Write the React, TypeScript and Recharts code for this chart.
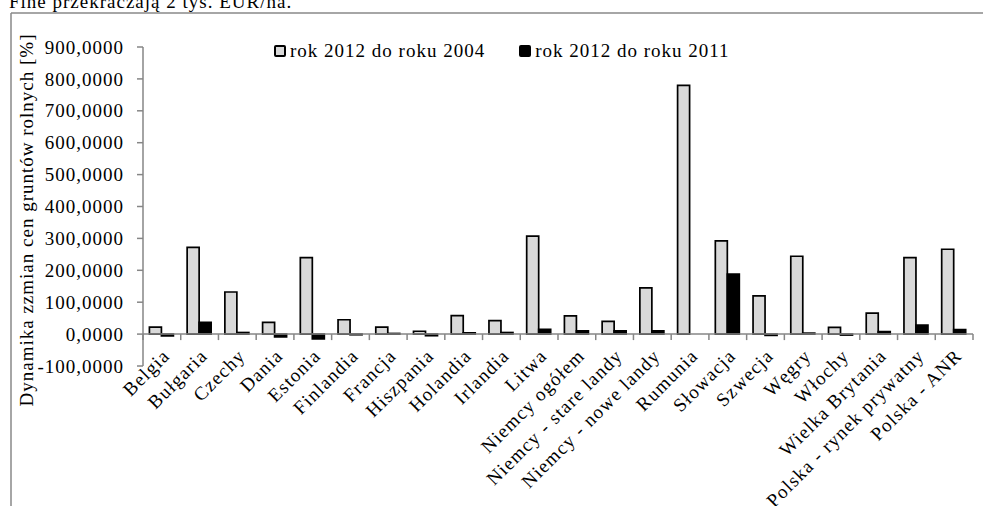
import { BarChart, Bar, XAxis, YAxis, ReferenceLine, Legend } from 'recharts'

const categories = [
  'Belgia', 'Bułgaria', 'Czechy', 'Dania', 'Estonia', 'Finlandia', 'Francja', 'Hiszpania',
  'Holandia', 'Irlandia', 'Litwa', 'Niemcy ogółem', 'Niemcy - stare landy', 'Niemcy - nowe landy',
  'Rumunia', 'Słowacja', 'Szwecja', 'Węgry', 'Włochy', 'Wielka Brytania',
  'Polska - rynek prywatny', 'Polska - ANR',
]

// rok 2012 do roku 2004 [%]
const vs2004 = [22, 272, 132, 37, 240, 45, 22, 9, 58, 42, 307, 57, 40, 145, 780, 292, 120, 244, 21, 66, 240, 266]
// rok 2012 do roku 2011 [%]
const vs2011 = [-6, 37, 5, -9, -15, -2, 2, -5, 4, 5, 15, 10, 10, 10, null, 188, -4, 3, -3, 8, 28, 14]

const yTicks = [-100, 0, 100, 200, 300, 400, 500, 600, 700, 800, 900]

const seriesNames = ['rok 2012 do roku 2004', 'rok 2012 do roku 2011']

const data = categories.map((name, i) => ({ name, a: vs2004[i], b: vs2011[i] }))

const FONT = 'Liberation Serif, Tinos, Times New Roman, Times, serif'
const AXIS = '#868686'

const fmt = (v: number) => v.toFixed(4).replace('.', ',')

// x axis line drawn at value 0, with tick marks between categories
const ZeroAxis = (props: any) => {
  const { x1, x2, y1 } = props
  const step = (x2 - x1) / categories.length
  return (
    <g>
      <line x1={x1} x2={x2} y1={y1} y2={y1} stroke={AXIS} strokeWidth={1.5} />
      {Array.from({ length: categories.length + 1 }, (_, i) => (
        <line key={i} x1={x1 + i * step} x2={x1 + i * step} y1={y1} y2={y1 + 6} stroke={AXIS} strokeWidth={1.5} />
      ))}
    </g>
  )
}

const CategoryTick = ({ x, y, payload }: any) => {
  const tx = x + 9
  const ty = y - 9
  return (
    <text
      x={tx}
      y={ty}
      textAnchor="end"
      transform={`rotate(-45, ${tx}, ${ty})`}
      style={{ fontFamily: FONT, fontSize: 19, letterSpacing: 1.2 }}
      fill="#000"
    >
      {payload.value}
    </text>
  )
}

const ValueTick = ({ x, y, payload }: any) => (
  <text
    x={x - 13}
    y={y}
    dy="0.35em"
    textAnchor="end"
    style={{ fontFamily: FONT, fontSize: 19, letterSpacing: 1 }}
    fill="#000"
  >
    {fmt(payload.value)}
  </text>
)

const YTitle = () => (
  <text
    x={33}
    y={220}
    textAnchor="middle"
    transform="rotate(-90, 33, 220)"
    style={{ fontFamily: FONT, fontSize: 19, letterSpacing: 1 }}
    fill="#000"
  >
    Dynamika zzmian cen gruntów rolnych [%]
  </text>
)

const renderLegend = (props: any) => (
  <div style={{ display: 'flex', alignItems: 'center', fontSize: 19, letterSpacing: 1, fontFamily: FONT, color: '#000' }}>
    {props.payload.map((entry: any, i: number) => (
      <div key={i} style={{ display: 'flex', alignItems: 'center', marginRight: 34 }}>
        <span
          style={{
            display: 'inline-block',
            width: 8,
            height: 8,
            background: entry.color,
            border: '2px solid #000',
            borderRadius: 2,
            marginRight: 4,
          }}
        />
        <span>{entry.value}</span>
      </div>
    ))}
  </div>
)

export default function App() {
  return (
    <div style={{ position: 'fixed', top: 0, left: 0, width: 983, height: 506, overflow: 'hidden', background: '#fff', fontFamily: FONT }}>
      <svg width={983} height={506} style={{ position: 'absolute', top: 0, left: 0 }}>
        <text x={9} y={8} style={{ fontFamily: FONT, fontSize: 19, letterSpacing: 1 }} fill="#000">
          Fine przekraczają 2 tys. EUR/ha.
        </text>
        <line x1={11} y1={13} x2={983} y2={13} stroke="#898989" strokeWidth={1.5} />
        <line x1={11} y1={13} x2={11} y2={506} stroke="#898989" strokeWidth={1.5} />
      </svg>
      <div style={{ position: 'absolute', top: 0, left: 0 }}>
        <BarChart
          width={983}
          height={506}
          data={data}
          margin={{ top: 25, right: 10, left: 0, bottom: 0 }}
          barCategoryGap="17%"
          barGap={0}
          style={{ fontFamily: FONT }}
        >
          <XAxis
            dataKey="name"
            interval={0}
            height={140}
            tickSize={0}
            tickMargin={0}
            axisLine={false}
            tickLine={false}
            tick={<CategoryTick />}
          />
          <YAxis
            width={143}
            domain={[-100, 900]}
            ticks={yTicks}
            tickSize={6}
            tickMargin={0}
            axisLine={{ stroke: AXIS, strokeWidth: 1.5 }}
            tickLine={{ stroke: AXIS, strokeWidth: 1.5 }}
            tick={<ValueTick />}
            label={{ content: <YTitle /> }}
          />
          <Legend
            verticalAlign="top"
            content={renderLegend}
            wrapperStyle={{ position: 'absolute', top: 40, left: 274, width: 'auto' }}
          />
          <Bar dataKey="a" name={seriesNames[0]} fill="#d9d9d9" stroke="#000" strokeWidth={1.7} isAnimationActive={false} />
          <Bar dataKey="b" name={seriesNames[1]} fill="#000" stroke="#000" strokeWidth={1.7} isAnimationActive={false} />
          <ReferenceLine y={0} shape={ZeroAxis} />
        </BarChart>
      </div>
    </div>
  )
}
